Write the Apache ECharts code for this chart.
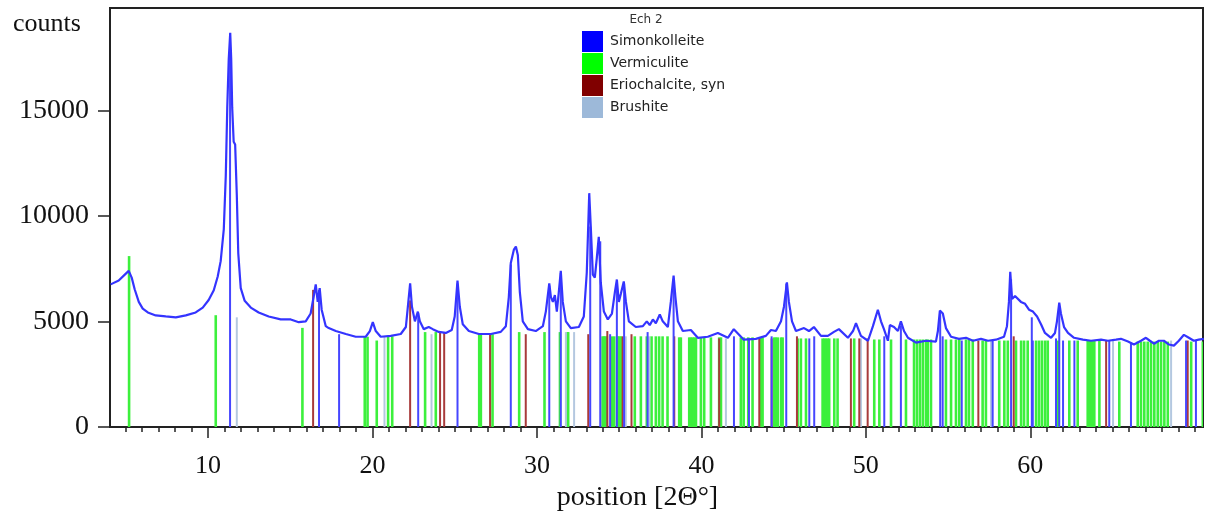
<!DOCTYPE html>
<html>
<head>
<meta charset="utf-8">
<title>Ech 2 XRD</title>
<script src="https://cdn.jsdelivr.net/npm/echarts@6/dist/echarts.min.js"></script>
<style>
  html, body { margin: 0; padding: 0; background: #fff; }
  #chart { width: 1205px; height: 517px; }
</style>
</head>
<body>
<div id="chart"></div>
<script>
// measured pattern (2theta, counts)
const patternPos = [4.08, 4.57, 4.94, 5.18, 5.36, 5.54, 5.79, 6.03, 6.34, 6.82, 7.43, 8.04, 8.65, 9.25, 9.68, 10.04,
  10.35, 10.59, 10.77, 10.96, 11.08, 11.17, 11.26, 11.35, 11.41, 11.47, 11.56, 11.65, 11.75, 11.84, 11.99, 12.23,
  12.6, 13.08, 13.69, 14.42, 15.03, 15.52, 15.94, 16.24, 16.42, 16.55, 16.67, 16.79, 16.91, 17.16, 17.34, 17.77,
  18.38, 18.98, 19.59, 19.84, 20.02, 20.2, 20.5, 21.11, 21.72, 22.03, 22.18, 22.29, 22.4, 22.58, 22.76, 22.88,
  23.12, 23.42, 23.67, 24.03, 24.46, 24.82, 25.0, 25.17, 25.31, 25.49, 25.86, 26.47, 27.2, 27.8, 28.11, 28.29,
  28.41, 28.6, 28.72, 28.84, 28.96, 29.14, 29.45, 29.93, 30.36, 30.54, 30.75, 30.85, 30.97, 31.09, 31.21, 31.33,
  31.45, 31.57, 31.76, 32.06, 32.55, 32.85, 33.03, 33.18, 33.28, 33.4, 33.52, 33.64, 33.76, 33.88, 34.07, 34.31,
  34.56, 34.74, 34.86, 34.98, 35.1, 35.28, 35.41, 35.59, 36.01, 36.44, 36.68, 36.86, 37.05, 37.23, 37.47, 37.65,
  37.96, 38.14, 38.31, 38.42, 38.57, 38.87, 39.36, 39.78, 40.39, 41.0, 41.61, 41.97, 42.58, 43.31, 43.92, 44.23,
  44.53, 44.84, 45.02, 45.2, 45.32, 45.51, 45.75, 46.24, 46.54, 46.84, 47.27, 47.69, 48.06, 48.36, 48.91, 49.22,
  49.4, 49.7, 50.13, 50.43, 50.73, 50.92, 51.1, 51.34, 51.46, 51.71, 51.95, 52.13, 52.32, 52.56, 53.05, 53.65,
  54.26, 54.38, 54.5, 54.68, 54.87, 55.18, 55.66, 56.09, 56.51, 57.0, 57.43, 57.91, 58.4, 58.58, 58.7, 58.78,
  58.89, 59.07, 59.19, 59.43, 59.68, 59.92, 60.16, 60.41, 60.65, 60.89, 61.26, 61.5, 61.62, 61.76, 61.86, 62.05,
  62.29, 62.66, 63.2, 63.69, 64.3, 64.72, 65.21, 65.51, 65.94, 66.3, 66.73, 67.03, 67.27, 67.52, 67.82, 68.12,
  68.43, 68.73, 69.03, 69.34, 69.64, 69.94, 70.24, 70.55];
const patternCounts = [6760, 6940, 7220, 7400, 7080, 6530, 5930, 5610, 5430, 5290, 5240, 5200, 5290, 5430, 5660, 6020,
  6480, 7130, 7860, 9380, 11910, 15130, 17430, 18670, 17430, 15130, 13520, 13380, 10990, 8230, 6580, 5980,
  5660, 5430, 5240, 5100, 5100, 4970, 5010, 5380, 6160, 6760, 5930, 6580, 5560, 4780, 4690, 4550,
  4410, 4280, 4280, 4550, 4970, 4550, 4280, 4320, 4410, 4740, 5930, 6810, 5700, 5010, 5470, 5010,
  4640, 4740, 4640, 4510, 4460, 4600, 5240, 6940, 5700, 4870, 4550, 4410, 4410, 4510, 4780, 6160,
  7770, 8410, 8550, 8140, 6390, 5010, 4640, 4550, 4780, 5470, 6810, 6160, 5930, 6250, 5470, 6390,
  7400, 5930, 5010, 4690, 4740, 5240, 7310, 11080, 9380, 7220, 7080, 8000, 9010, 6850, 5470, 5100,
  5380, 6390, 6990, 5930, 6300, 6900, 5930, 5010, 4740, 4780, 5010, 4830, 5100, 4920, 5330, 5010,
  4740, 5930, 7170, 6160, 5010, 4550, 4600, 4230, 4280, 4460, 4230, 4640, 4140, 4180, 4320, 4600,
  4550, 5010, 5700, 6850, 5930, 5010, 4550, 4690, 4550, 4740, 4320, 4320, 4510, 4640, 4230, 4550,
  4920, 4320, 4090, 4780, 5560, 5010, 4640, 4090, 4830, 4740, 4550, 5010, 4550, 4230, 4000, 4090,
  4050, 4550, 5520, 5380, 4690, 4280, 4180, 4230, 4090, 4180, 4090, 4140, 4280, 4780, 5930, 7360,
  6070, 6210, 6250, 5930, 5840, 5560, 5470, 5240, 4870, 4460, 4230, 4460, 5010, 5890, 5380, 4740,
  4460, 4230, 4140, 4090, 4140, 4090, 4140, 4180, 4050, 3910, 4090, 4230, 4090, 3950, 4090, 4090,
  3910, 3860, 4090, 4370, 4230, 4090, 4140, 4180];

// reference sticks
const simonPos = [11.34, 16.75, 17.97, 22.78, 25.17, 28.41, 30.75, 31.45, 33.24, 33.85, 34.45, 34.86, 35.3, 36.73,
  38.31, 41.98, 42.89, 44.27, 45.16, 46.56, 46.86, 51.12, 52.13, 54.52, 54.67, 55.83, 57.71, 58.83, 60.09, 60.15,
  61.56, 61.76, 61.99, 62.68, 64.8, 66.12, 69.47, 70.07];
const simonInt = [18000, 6500, 4400, 5400, 6800, 7700, 6700, 7300, 9500, 8800, 4400, 6800, 6800, 4500,
  7000, 4300, 4200, 4300, 6800, 4200, 4300, 4300, 4800, 5400, 4300, 4100, 4100, 7000, 5200, 4100,
  4200, 5700, 4100, 4100, 4100, 4000, 4100, 4100];

const vermPos = [5.2, 10.47, 15.74, 19.53, 19.7, 20.26, 20.95, 21.2, 23.2, 23.85, 26.49, 26.59, 27.3, 28.92, 30.46,
  31.4, 31.86, 31.9, 33.99, 34.07, 34.16, 34.25, 34.56, 34.7, 34.9, 35.01, 35.1, 35.95, 36.32, 36.68, 36.97,
  37.23, 37.43, 37.64, 37.94, 38.65, 38.75, 39.26, 39.36, 39.46, 39.56, 39.67, 39.97, 40.17, 40.58, 41.08, 41.19,
  42.4, 42.57, 42.85, 43.11, 43.62, 43.72, 44.43, 44.53, 44.64, 44.84, 44.94, 45.85, 46.05, 46.36, 47.37, 47.47,
  47.57, 47.68, 47.77, 48.08, 48.28, 49.29, 50.51, 50.82, 51.53, 52.44, 52.93, 53.11, 53.29, 53.47, 53.66, 53.76,
  53.96, 54.87, 55.18, 55.48, 55.68, 56.09, 56.27, 56.5, 57.1, 57.3, 58.11, 58.42, 58.63, 59.13, 59.44, 59.62,
  59.84, 60.35, 60.53, 60.71, 60.9, 61.06, 61.67, 62.37, 62.88, 63.49, 63.63, 63.75, 63.89, 64.2, 65.41, 66.53,
  66.73, 66.93, 67.14, 67.34, 67.54, 67.75, 67.95, 68.15, 68.36, 69.78, 70.49];
const vermInt = [8100, 5300, 4700, 4280, 4280, 4100, 4300, 4300, 4500, 4500, 4400, 4400, 4400, 4500, 4500,
  4500, 4500, 4500, 4300, 4300, 4300, 4300, 4300, 4300, 4300, 4300, 4300, 4300, 4300, 4300, 4300,
  4300, 4300, 4300, 4300, 4250, 4250, 4250, 4250, 4250, 4250, 4250, 4250, 4250, 4250, 4250, 4250,
  4250, 4250, 4250, 4250, 4250, 4250, 4250, 4250, 4250, 4250, 4250, 4200, 4200, 4200, 4200, 4200,
  4200, 4200, 4200, 4200, 4200, 4200, 4150, 4150, 4150, 4150, 4150, 4150, 4150, 4150, 4150, 4150,
  4150, 4150, 4150, 4150, 4150, 4150, 4150, 4150, 4100, 4100, 4100, 4100, 4100, 4100, 4100, 4100,
  4100, 4100, 4100, 4100, 4100, 4100, 4100, 4100, 4100, 4100, 4100, 4100, 4100, 4100, 4050, 4050,
  4050, 4050, 4050, 4050, 4050, 4050, 4050, 4050, 4050, 4050, 4050];

const erioPos = [16.39, 22.29, 24.11, 24.36, 27.15, 29.32, 33.12, 34.28, 35.21, 35.75, 38.35, 41.08, 43.52, 44.27,
  45.81, 49.09, 49.6, 50.11, 56.84, 58.99, 64.61, 69.57];
const erioInt = [6500, 6000, 4500, 4500, 4400, 4400, 4400, 4550, 4300, 4400, 4300, 4200, 4200, 4200,
  4300, 4200, 4200, 4200, 4100, 4300, 4100, 4100];

const brushPos = [11.75, 20.73, 23.59, 31.76, 32.26, 35.4, 36.83, 41.49, 49.7, 57.61, 65.03, 68.56];
const brushInt = [5200, 4300, 4400, 4500, 4500, 4300, 4300, 4200, 4200, 4100, 4100, 4100];

const xLabels = [10, 20, 30, 40, 50, 60];
const xMinor = [5, 6, 7, 8, 9, 11, 12, 13, 14, 15, 16, 17, 18, 19, 21, 22, 23, 24, 25, 26, 27, 28, 29,
  31, 32, 33, 34, 35, 36, 37, 38, 39, 41, 42, 43, 44, 45, 46, 47, 48, 49, 51, 52, 53, 54, 55, 56, 57, 58, 59,
  61, 62, 63, 64, 65, 66, 67, 68, 69, 70];
const yLabels = [0, 5000, 10000, 15000];

const zip = (a, b) => a.map((v, i) => [v, b[i]]);

const stickRender = (color, width) => (params, api) => {
  const p0 = api.coord([api.value(0), 0]);
  const p1 = api.coord([api.value(0), api.value(1)]);
  return {
    type: "line",
    shape: { x1: p0[0], y1: p0[1], x2: p1[0], y2: p1[1] },
    style: { stroke: color, lineWidth: width }
  };
};

const stickSeries = (name, pos, val, legendColor, lineColor, width) => ({
  name,
  type: "custom",
  clip: true,
  renderItem: stickRender(lineColor, width),
  itemStyle: { color: legendColor },
  data: zip(pos, val),
  z: 2
});

const serif = "Liberation Serif";

const myChart = echarts.init(document.getElementById("chart"));
const option = {
  animation: false,
  title: [
    { text: "Ech 2", left: 641, top: 9, textAlign: "center",
      textStyle: { fontFamily: "DejaVu Sans", fontSize: 12, fontWeight: "normal", color: "#333" } },
    { text: "counts", left: 8, top: 6,
      textStyle: { fontFamily: serif, fontSize: 26, fontWeight: "normal", color: "#111" } }
  ],
  legend: {
    orient: "vertical",
    left: 582,
    top: 31,
    itemWidth: 21,
    itemHeight: 21,
    itemGap: 1,
    icon: "rect",
    padding: 0,
    textStyle: { fontFamily: "DejaVu Sans", fontSize: 14, color: "#222", padding: [0, 0, 0, 2] },
    data: ["Simonkolleite", "Vermiculite", "Eriochalcite, syn", "Brushite"]
  },
  grid: {
    left: 110, right: 2, top: 8, bottom: 78,
    show: true, borderColor: "#222", borderWidth: 2, containLabel: false
  },
  xAxis: [
    {
      type: "value", min: 4.04, max: 70.5,
      axisLine: { lineStyle: { color: "#222", width: 2 } },
      axisTick: { customValues: xLabels, length: 11, lineStyle: { color: "#222", width: 1.5 } },
      axisLabel: { customValues: xLabels, fontFamily: serif, fontSize: 26, color: "#111", margin: 26 },
      splitLine: { show: false },
      name: "position [2Θ°]",
      nameLocation: "middle",
      nameGap: 56,
      nameTextStyle: { fontFamily: serif, fontSize: 28, color: "#111", padding: [0, 38, 0, 0] }
    },
    {
      type: "value", min: 4.04, max: 70.5, position: "bottom",
      axisLine: { show: false },
      axisTick: { customValues: xMinor, length: 5, lineStyle: { color: "#222", width: 1.5 } },
      axisLabel: { show: false },
      splitLine: { show: false }
    }
  ],
  yAxis: {
    type: "value", min: 0, max: 19850,
    axisLine: { show: true, lineStyle: { color: "#222", width: 2 } },
    axisTick: { show: true, customValues: yLabels, length: 12, lineStyle: { color: "#222", width: 1.5 } },
    axisLabel: {
      customValues: yLabels, fontFamily: serif, fontSize: 28, color: "#111", margin: 21,
      formatter: (v) => String(v)
    },
    splitLine: { show: false }
  },
  series: [
    stickSeries("Vermiculite", vermPos, vermInt, "#00ff00", "#3cf03c", 2.6),
    stickSeries("Brushite", brushPos, brushInt, "#9db9d9", "#b4c8e0", 2),
    stickSeries("Eriochalcite, syn", erioPos, erioInt, "#800000", "#a83a3a", 2),
    stickSeries("Simonkolleite", simonPos, simonInt, "#0000ff", "#4646ff", 2),
    {
      name: "Ech 2",
      type: "line",
      data: zip(patternPos, patternCounts),
      showSymbol: false,
      lineStyle: { color: "#3434ff", width: 2.2 },
      z: 5
    }
  ]
};
myChart.setOption(option);
</script>
</body>
</html>
